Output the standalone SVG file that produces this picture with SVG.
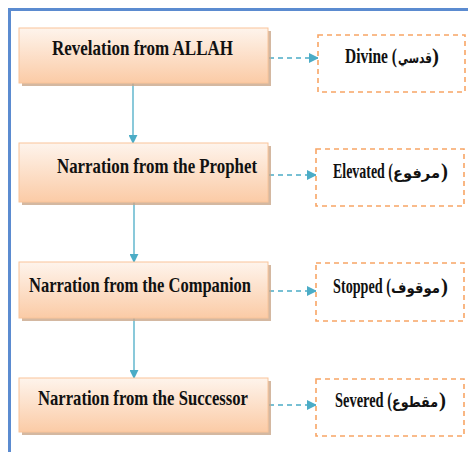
<svg xmlns="http://www.w3.org/2000/svg" width="468" height="452" viewBox="0 0 468 452">
<defs>
<linearGradient id="peach" x1="0" y1="0" x2="0" y2="1">
<stop offset="0" stop-color="#fef4ec"/>
<stop offset="1" stop-color="#fbcba6"/>
</linearGradient>
<marker id="ah" viewBox="0 0 10 10" refX="9" refY="5" markerWidth="9" markerHeight="9" markerUnits="userSpaceOnUse" orient="auto">
<path d="M0,0 L10,5 L0,10 Z" fill="#4bacc6"/>
</marker>
<marker id="ah2" viewBox="0 0 10 10" refX="9" refY="5" markerWidth="10" markerHeight="10" markerUnits="userSpaceOnUse" orient="auto">
<path d="M0,0 L10,5 L0,10 Z" fill="#4bacc6"/>
</marker>
</defs>
<style>
.shadow{fill:#c9a68a;opacity:0.8}
.box{fill:url(#peach);stroke:#f9c49a;stroke-width:1}
.dbox{fill:#ffffff;stroke:#f8a565;stroke-width:1.6;stroke-dasharray:5 4}
.t{font-family:"Liberation Serif","Times New Roman",serif;font-weight:bold;font-size:22px;fill:#111111}
.ta{font-family:"Liberation Serif","Times New Roman",serif;font-weight:bold;font-size:21px;fill:#111111}
.ar{font-family:"DejaVu Sans","Noto Sans",sans-serif;font-weight:bold;font-size:15px;fill:#111111}
.v{stroke:#4bacc6;stroke-width:1.3;fill:none}
.d{stroke:#4bacc6;stroke-width:1.6;fill:none;stroke-dasharray:5 4}
</style>
<rect x="9.5" y="9.5" width="480" height="470" fill="#ffffff" stroke="#5b8bd0" stroke-width="3"/>
<g id="connectors">
<line class="v" x1="133" y1="83" x2="133" y2="143" marker-end="url(#ah)"/>
<line class="v" x1="134" y1="202" x2="134" y2="262" marker-end="url(#ah)"/>
<line class="v" x1="134" y1="318" x2="134" y2="378" marker-end="url(#ah)"/>
<line class="d" x1="269" y1="58" x2="318" y2="58" marker-end="url(#ah2)"/>
<line class="d" x1="269" y1="175" x2="316" y2="175" marker-end="url(#ah2)"/>
<line class="d" x1="269" y1="291" x2="316" y2="291" marker-end="url(#ah2)"/>
<line class="d" x1="269" y1="405" x2="316" y2="405" marker-end="url(#ah2)"/>
</g>
<g id="node-allah">
<rect class="shadow" x="22" y="31" width="249" height="55"/>
<rect class="box" x="19" y="28" width="249" height="55"/>
<text class="t" x="52" y="55" textLength="181" lengthAdjust="spacingAndGlyphs">Revelation from ALLAH</text>
</g>
<g id="node-prophet">
<rect class="shadow" x="22" y="146" width="249" height="59"/>
<rect class="box" x="19" y="143" width="249" height="59"/>
<text class="t" x="57" y="173" textLength="200" lengthAdjust="spacingAndGlyphs">Narration from the Prophet</text>
</g>
<g id="node-companion">
<rect class="shadow" x="22" y="265" width="249" height="56"/>
<rect class="box" x="19" y="262" width="249" height="56"/>
<text class="t" x="29" y="292" textLength="222" lengthAdjust="spacingAndGlyphs">Narration from the Companion</text>
</g>
<g id="node-successor">
<rect class="shadow" x="22" y="381" width="249" height="54"/>
<rect class="box" x="19" y="378" width="249" height="54"/>
<text class="t" x="38" y="405" textLength="210" lengthAdjust="spacingAndGlyphs">Narration from the Successor</text>
</g>
<g id="node-divine">
<rect class="dbox" x="318" y="35" width="147" height="57"/>
<text class="ta" x="345" y="63" textLength="52" lengthAdjust="spacingAndGlyphs">Divine (</text>
<text class="ar" x="398" y="63" textLength="34" lengthAdjust="spacingAndGlyphs">قدسي</text>
<text class="ta" x="432" y="63">)</text>
</g>
<g id="node-elevated">
<rect class="dbox" x="316" y="149" width="148" height="57"/>
<text class="ta" x="333" y="178" textLength="60" lengthAdjust="spacingAndGlyphs">Elevated (</text>
<text class="ar" x="393" y="178" textLength="47" lengthAdjust="spacingAndGlyphs">مرفوع</text>
<text class="ta" x="441" y="178">)</text>
</g>
<g id="node-stopped">
<rect class="dbox" x="316" y="263" width="148" height="58"/>
<text class="ta" x="333" y="293" textLength="58" lengthAdjust="spacingAndGlyphs">Stopped (</text>
<text class="ar" x="391" y="293" textLength="49" lengthAdjust="spacingAndGlyphs">موقوف</text>
<text class="ta" x="441" y="293">)</text>
</g>
<g id="node-severed">
<rect class="dbox" x="316" y="379" width="148" height="57"/>
<text class="ta" x="335" y="407" textLength="57" lengthAdjust="spacingAndGlyphs">Severed (</text>
<text class="ar" x="392" y="407" textLength="46" lengthAdjust="spacingAndGlyphs">مقطوع</text>
<text class="ta" x="439" y="407">)</text>
</g>
</svg>
